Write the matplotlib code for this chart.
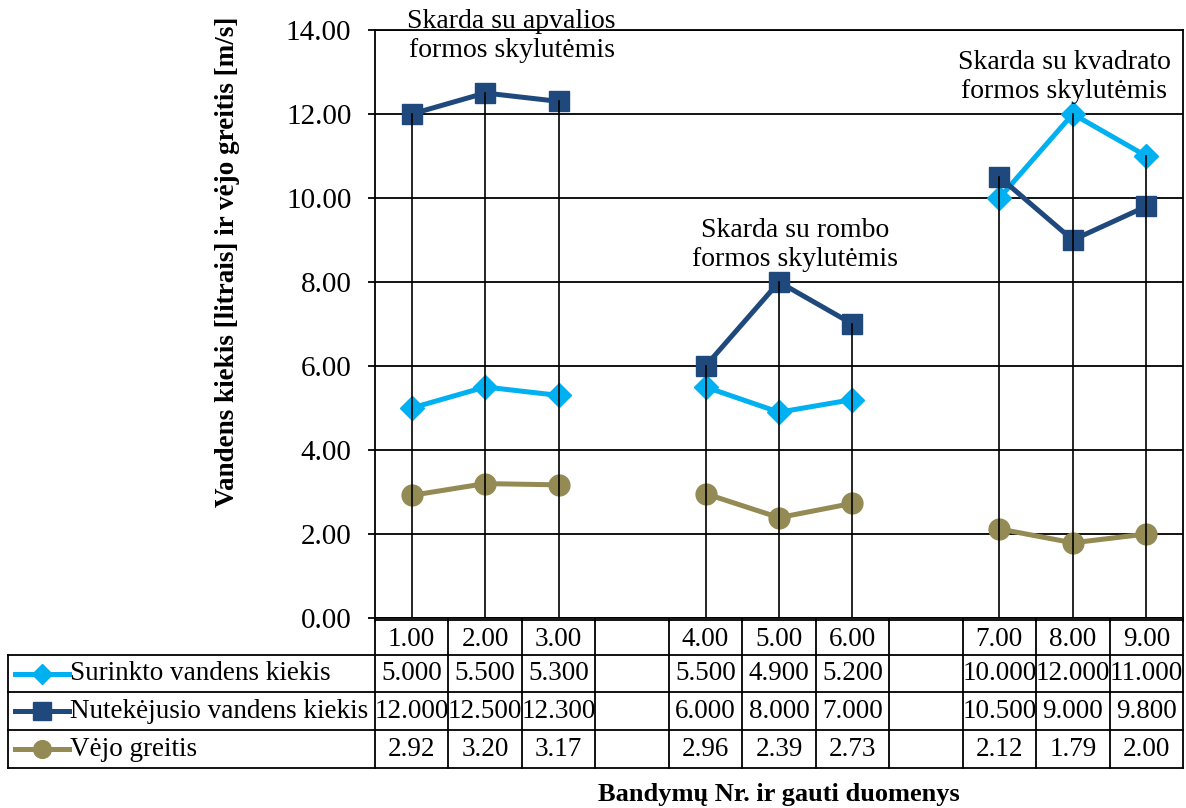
import numpy as np
import matplotlib
matplotlib.use("Agg")
import matplotlib.pyplot as plt
from matplotlib.lines import Line2D

plt.rcParams['font.family'] = ['Liberation Serif', 'DejaVu Serif']

# categories (empty strings are gaps between the three groups)
categories = ["1.00", "2.00", "3.00", "", "4.00", "5.00", "6.00", "", "7.00", "8.00", "9.00"]
surinkto = [5.0, 5.5, 5.3, None, 5.5, 4.9, 5.2, None, 10.0, 12.0, 11.0]
nutekejusio = [12.0, 12.5, 12.3, None, 6.0, 8.0, 7.0, None, 10.5, 9.0, 9.8]
vejo = [2.92, 3.20, 3.17, None, 2.96, 2.39, 2.73, None, 2.12, 1.79, 2.00]

surinkto_txt = ["5.000", "5.500", "5.300", "", "5.500", "4.900", "5.200", "", "10.000", "12.000", "11.000"]
nutekejusio_txt = ["12.000", "12.500", "12.300", "", "6.000", "8.000", "7.000", "", "10.500", "9.000", "9.800"]
vejo_txt = ["2.92", "3.20", "3.17", "", "2.96", "2.39", "2.73", "", "2.12", "1.79", "2.00"]

series_names = ["Surinkto vandens kiekis", "Nutekėjusio vandens kiekis", "Vėjo greitis"]
colors = ["#00B0F0", "#1F497D", "#948A54"]
markers = ["D", "s", "o"]
msizes = [12, 15, 15]

notes = ["Skarda su apvalios\nformos skylutėmis",
         "Skarda su rombo\nformos skylutėmis",
         "Skarda su kvadrato\nformos skylutėmis"]
note_pos = [(1.36, 13.86), (5.22, 8.88), (8.88, 12.88)]

W, H = 1186, 808
fig = plt.figure(figsize=(W / 100, H / 100), dpi=100)
ax_left, ax_right, ax_top, ax_bot = 375, 1183, 30, 618
ax = fig.add_axes([ax_left / W, 1 - ax_bot / H, (ax_right - ax_left) / W, (ax_bot - ax_top) / H])

x = np.arange(len(categories))
vals = [surinkto, nutekejusio, vejo]
arrs = [np.array([np.nan if v is None else v for v in s]) for s in vals]

for arr, c, m, ms in zip(arrs, colors, markers, msizes):
    ax.plot(x, arr, color=c, lw=3.6, marker=m, markersize=ms, zorder=3)

# drop lines from highest point to axis
top = np.nanmax(np.vstack(arrs), axis=0)
for xi, t in zip(x, top):
    if not np.isnan(t):
        ax.plot([xi, xi], [0, t], color="black", lw=1.2, zorder=4)

ax.set_xlim(-0.5, len(categories) - 0.5)
ax.set_ylim(0, 14)
ax.set_yticks(np.arange(0, 15, 2))
ax.set_yticklabels([f"{v:.2f}" for v in np.arange(0, 15, 2)], fontsize=21)
ax.yaxis.grid(True, color="black", lw=1.3, zorder=0)
ax.set_axisbelow(True)
ax.set_xticks(np.arange(-0.5, len(categories), 1))
ax.set_xticklabels([])
ax.tick_params(axis="y", length=5, width=1.3, pad=12)
ax.tick_params(axis="x", length=3, width=1.3)
for s in ax.spines.values():
    s.set_linewidth(1.3)

for (nx, ny), txt in zip(note_pos, notes):
    ax.text(nx, ny, txt, ha="center", va="center", fontsize=20, linespacing=1.25, zorder=5)

# data table under the plot
axh = ax_bot - ax_top
def yax(py):
    return -(py - ax_bot) / axh

tr = ax.get_xaxis_transform()
col_px = (ax_right - ax_left) / len(categories)
label_left = -0.5 - (ax_left - 8) / col_px
rows_px = [620, 655, 692, 730, 768]
lw = 1.3
kw = dict(transform=tr, clip_on=False, color="black", lw=lw)

# header row (categories only)
ax.add_line(Line2D([-0.5, len(categories) - 0.5], [yax(rows_px[0])] * 2, **kw))
for py in rows_px[1:]:
    ax.add_line(Line2D([label_left, len(categories) - 0.5], [yax(py)] * 2, **kw))
for i in range(len(categories) + 1):
    ax.add_line(Line2D([i - 0.5] * 2, [yax(rows_px[0]), yax(rows_px[-1])], **kw))
ax.add_line(Line2D([label_left] * 2, [yax(rows_px[1]), yax(rows_px[-1])], **kw))

fs = 19.5
for i, c in enumerate(categories):
    ax.text(i, yax((rows_px[0] + rows_px[1]) / 2 + 2), c, transform=tr, ha="center", va="center", fontsize=fs)
for r, (txts, name, c, m, ms) in enumerate(zip([surinkto_txt, nutekejusio_txt, vejo_txt], series_names, colors, markers, msizes)):
    yc = yax((rows_px[r + 1] + rows_px[r + 2]) / 2)
    for i, t in enumerate(txts):
        ax.text(i, yc, t, transform=tr, ha="center", va="center", fontsize=fs)
    lx0 = label_left + 7 / col_px
    lx1 = label_left + 61 / col_px
    ax.add_line(Line2D([lx0, lx1], [yc, yc], transform=tr, clip_on=False, color=c, lw=3.6))
    ax.add_line(Line2D([(lx0 + lx1) / 2], [yc], transform=tr, clip_on=False, color=c, marker=m,
                       markersize=ms * 0.85, lw=0))
    ax.text(label_left + 62 / col_px, yc, name, transform=tr, ha="left", va="center", fontsize=fs)

fig.text(779 / W, 1 - 795 / H, "Bandymų Nr. ir gauti duomenys", ha="center", va="center",
         fontsize=19, fontweight="bold")
fig.text(228 / W, 1 - 262 / H, "Vandens kiekis [litrais] ir vėjo greitis [m/s]", ha="center", va="center",
         rotation=90, fontsize=19.5, fontweight="bold")

fig.savefig("out.png", dpi=100)
